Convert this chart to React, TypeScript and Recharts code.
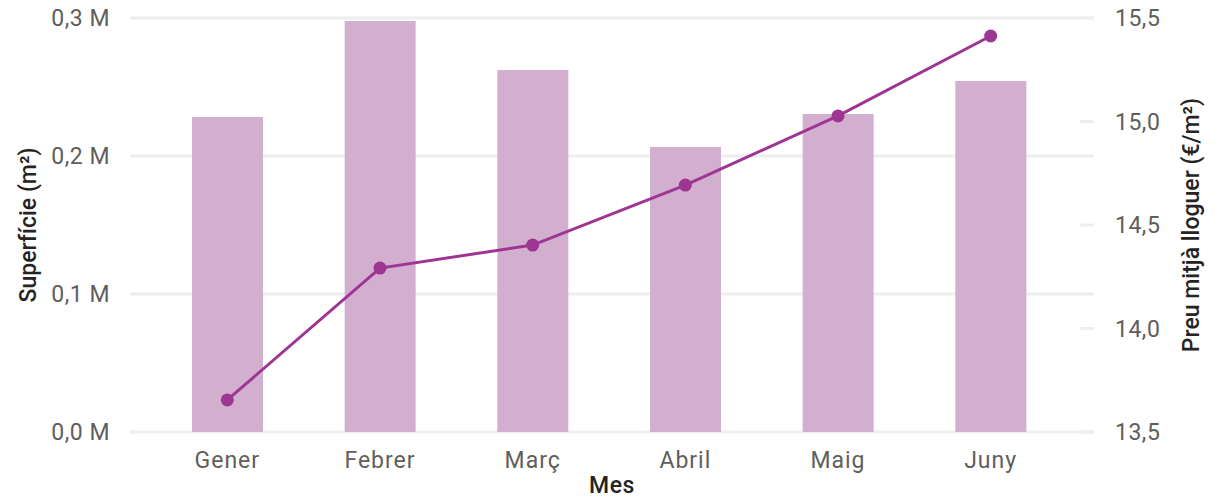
import { ComposedChart, Bar, Line, XAxis, YAxis, CartesianGrid } from "recharts";

const months = ["Gener", "Febrer", "Març", "Abril", "Maig", "Juny"];
const surface = [228300, 297800, 262300, 206500, 230400, 254300];
const price = [13.655, 14.292, 14.403, 14.693, 15.027, 15.413];
const leftTicks = [0, 100000, 200000, 300000];
const rightTicks = [13.5, 14.0, 14.5, 15.0, 15.5];

const data = months.map((m, i) => ({ month: m, surface: surface[i], price: price[i] }));

const FONT = "Roboto, 'DejaVu Sans', sans-serif";
const TICK = "#605E5C";
const TITLE = "#252423";

const fmtM = (v: number) => (v / 1e6).toFixed(1).replace(".", ",") + " M";
const fmtP = (v: number) => v.toFixed(1).replace(".", ",");

function RightTick({ x, y, payload }: any) {
  return (
    <g>
      <line x1={x - 35} y1={y} x2={x - 21} y2={y} stroke="#EEEEEE" strokeWidth={3} />
      <text x={x} y={y} dy={8} textAnchor="start" fontSize={23} fill={TICK} fontFamily={FONT} letterSpacing={0.5}>
        {fmtP(payload.value)}
      </text>
    </g>
  );
}

export default function App() {
  return (
    <div style={{ position: "absolute", left: 0, top: 0, width: 1224, height: 500, background: "#fff" }}>
      <ComposedChart width={1224} height={500} data={data} margin={{ top: 18, right: 0, bottom: 0, left: 0 }}>
        <CartesianGrid yAxisId="left" vertical={false} stroke="#EEEEEE" strokeWidth={3} />
        <XAxis
          dataKey="month"
          padding={{ left: 21, right: 27 }}
          height={68}
          tickLine={false}
          axisLine={false}
          tickMargin={14}
          tick={{ fontSize: 23, fill: TICK, fontFamily: FONT, letterSpacing: 1 } as any}
          label={{ value: "Mes", position: "insideBottom", offset: 7, fontSize: 23, fill: TITLE, fontFamily: FONT, fontWeight: 500, letterSpacing: 0.5 } as any}
        />
        <YAxis
          yAxisId="left"
          width={130}
          domain={[0, 300000]}
          ticks={leftTicks}
          tickFormatter={fmtM}
          tickLine={false}
          axisLine={false}
          tickSize={0}
          tickMargin={20}
          tick={{ fontSize: 23, fill: TICK, fontFamily: FONT, letterSpacing: 0.5 } as any}
          label={{ value: "Superfície (m²)", angle: -90, position: "insideLeft", offset: 28, style: { textAnchor: "middle" }, fontSize: 23, fill: TITLE, fontFamily: FONT, fontWeight: 500 } as any}
        />
        <YAxis
          yAxisId="right"
          orientation="right"
          width={130}
          domain={[13.5, 15.5]}
          ticks={rightTicks}
          tickLine={false}
          axisLine={false}
          tickSize={0}
          tickMargin={21}
          tick={<RightTick />}
          label={{ value: "Preu mitjà lloguer (€/m²)", angle: -90, position: "insideRight", offset: 33, style: { textAnchor: "middle" }, fontSize: 23, fill: TITLE, fontFamily: FONT, fontWeight: 500 } as any}
        />
        <Bar yAxisId="left" dataKey="surface" fill="#D3AFCF" barSize={71} isAnimationActive={false} />
        <Line
          yAxisId="right"
          dataKey="price"
          stroke="#9E3593"
          strokeWidth={3}
          dot={{ r: 6.5, fill: "#9E3593", stroke: "#9E3593", strokeWidth: 0 }}
          activeDot={false}
          isAnimationActive={false}
        />
      </ComposedChart>
    </div>
  );
}
